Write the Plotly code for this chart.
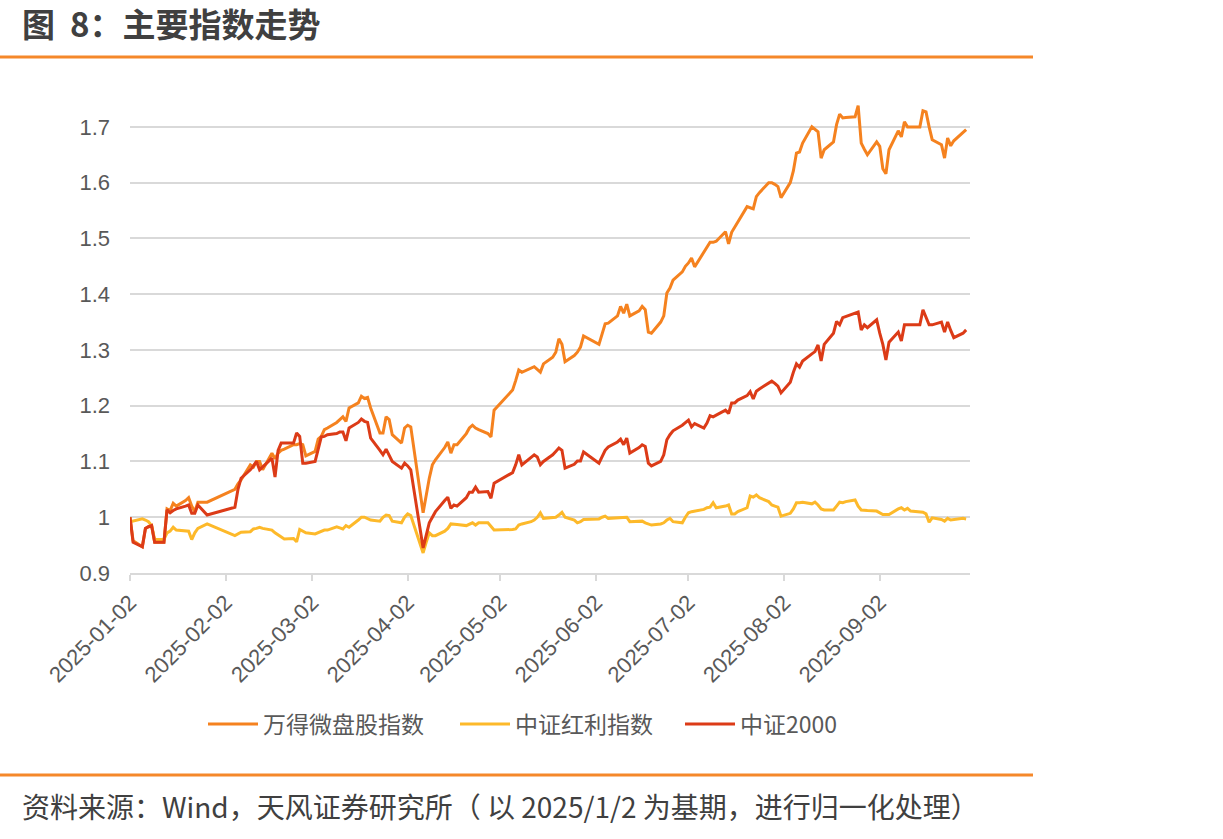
import plotly.graph_objects as go

# ---------------- data ----------------
dates = [
    # Jan
    "2025-01-02", "2025-01-03", "2025-01-06", "2025-01-07", "2025-01-08", "2025-01-09", "2025-01-10",
    "2025-01-13", "2025-01-14", "2025-01-15", "2025-01-16", "2025-01-17", "2025-01-20", "2025-01-21",
    "2025-01-22", "2025-01-23", "2025-01-24", "2025-01-27",
    # Feb
    "2025-02-05", "2025-02-06", "2025-02-07", "2025-02-10", "2025-02-11", "2025-02-12", "2025-02-13",
    "2025-02-14", "2025-02-17", "2025-02-18", "2025-02-19", "2025-02-20", "2025-02-21", "2025-02-24",
    "2025-02-25", "2025-02-26", "2025-02-27", "2025-02-28",
    # Mar
    "2025-03-03", "2025-03-04", "2025-03-05", "2025-03-06", "2025-03-07", "2025-03-10", "2025-03-11",
    "2025-03-12", "2025-03-13", "2025-03-14", "2025-03-17", "2025-03-18", "2025-03-19", "2025-03-20",
    "2025-03-21", "2025-03-24", "2025-03-25", "2025-03-26", "2025-03-27", "2025-03-28", "2025-03-31",
    # Apr
    "2025-04-01", "2025-04-02", "2025-04-03", "2025-04-07", "2025-04-08", "2025-04-09", "2025-04-10",
    "2025-04-11", "2025-04-14", "2025-04-15", "2025-04-16", "2025-04-17", "2025-04-18", "2025-04-21",
    "2025-04-22", "2025-04-23", "2025-04-24", "2025-04-25", "2025-04-28", "2025-04-29", "2025-04-30",
    # May
    "2025-05-06", "2025-05-07", "2025-05-08", "2025-05-09", "2025-05-12", "2025-05-13", "2025-05-14",
    "2025-05-15", "2025-05-16", "2025-05-19", "2025-05-20", "2025-05-21", "2025-05-22", "2025-05-23",
    "2025-05-26", "2025-05-27", "2025-05-28", "2025-05-29",
    # Jun
    "2025-06-03", "2025-06-04", "2025-06-05", "2025-06-06", "2025-06-09", "2025-06-10", "2025-06-11",
    "2025-06-12", "2025-06-13", "2025-06-16", "2025-06-17", "2025-06-18", "2025-06-19", "2025-06-20",
    "2025-06-23", "2025-06-24", "2025-06-25", "2025-06-26", "2025-06-27", "2025-06-30",
    # Jul
    "2025-07-01", "2025-07-02", "2025-07-03", "2025-07-04", "2025-07-07", "2025-07-08", "2025-07-09",
    "2025-07-10", "2025-07-11", "2025-07-14", "2025-07-15", "2025-07-16", "2025-07-17", "2025-07-18",
    "2025-07-21", "2025-07-22", "2025-07-23", "2025-07-24", "2025-07-25", "2025-07-28", "2025-07-29",
    "2025-07-30", "2025-07-31",
    # Aug
    "2025-08-01", "2025-08-04", "2025-08-05", "2025-08-06", "2025-08-07", "2025-08-08", "2025-08-11",
    "2025-08-12", "2025-08-13", "2025-08-14", "2025-08-15", "2025-08-18", "2025-08-19", "2025-08-20",
    "2025-08-21", "2025-08-22", "2025-08-25", "2025-08-26", "2025-08-27", "2025-08-28", "2025-08-29",
    # Sep
    "2025-09-01", "2025-09-02", "2025-09-03", "2025-09-04", "2025-09-05", "2025-09-08", "2025-09-09",
    "2025-09-10", "2025-09-11", "2025-09-12", "2025-09-15", "2025-09-16", "2025-09-17", "2025-09-18",
    "2025-09-19", "2025-09-22", "2025-09-23", "2025-09-24", "2025-09-25", "2025-09-26", "2025-09-29",
    "2025-09-30",
]

wind_microcap = [
    1.0, 0.958, 0.947, 0.98, 0.983, 0.985, 0.955, 0.955, 1.015, 1.012, 1.025, 1.02, 1.03, 1.035, 1.02, 1.01, 1.027, 1.027,
    1.05, 1.06, 1.067, 1.094, 1.09, 1.10, 1.10, 1.085, 1.115, 1.105, 1.115, 1.12, 1.122, 1.13, 1.13, 1.132, 1.13, 1.11,
    1.118, 1.14, 1.145, 1.157, 1.16, 1.17, 1.175, 1.18, 1.172, 1.196, 1.205, 1.217, 1.213, 1.215, 1.196, 1.151, 1.151,
    1.18, 1.175, 1.148, 1.133,
    1.16, 1.165, 1.162, 1.008, 1.04, 1.07, 1.094, 1.103, 1.125, 1.135, 1.115, 1.13, 1.13, 1.15, 1.16, 1.165, 1.16,
    1.157, 1.15, 1.144, 1.192,
    1.228, 1.245, 1.264, 1.26, 1.268, 1.27, 1.265, 1.26, 1.275, 1.287, 1.296, 1.32, 1.31, 1.279, 1.29, 1.296, 1.305, 1.325,
    1.31, 1.329, 1.347, 1.348, 1.361, 1.378, 1.366, 1.382, 1.361, 1.37, 1.378, 1.372, 1.332, 1.33, 1.35, 1.361, 1.402,
    1.411, 1.425, 1.44,
    1.45, 1.456, 1.465, 1.449, 1.475, 1.485, 1.493, 1.493, 1.495, 1.512, 1.49, 1.511, 1.52, 1.53, 1.557, 1.555, 1.553,
    1.575, 1.582, 1.6, 1.6, 1.597, 1.593,
    1.573, 1.6, 1.621, 1.653, 1.655, 1.671, 1.7, 1.695, 1.691, 1.644, 1.659, 1.673, 1.704, 1.723, 1.716, 1.717, 1.718,
    1.738, 1.671, 1.66, 1.65,
    1.673, 1.665, 1.625, 1.616, 1.659, 1.693, 1.682, 1.709, 1.70, 1.70, 1.70, 1.729, 1.727, 1.70, 1.677, 1.668, 1.644,
    1.68, 1.666, 1.675, 1.69, 1.695,
]

csi_dividend = [
    0.992, 0.993, 0.997, 0.995, 0.992, 0.985, 0.96, 0.96, 0.972, 0.975, 0.982, 0.977, 0.976, 0.975, 0.96, 0.972, 0.98, 0.988,
    0.967, 0.97, 0.973, 0.974, 0.979, 0.98, 0.982, 0.98, 0.977, 0.972, 0.968, 0.964, 0.961, 0.962, 0.956, 0.978, 0.975, 0.972,
    0.97, 0.972, 0.975, 0.977, 0.977, 0.983, 0.981, 0.979, 0.985, 0.982, 0.995, 1.0, 1.0, 0.998, 0.995, 0.993, 1.0, 1.004,
    1.003, 0.993, 0.99,
    1.0, 1.006, 1.003, 0.936, 0.955, 0.972, 0.967, 0.967, 0.975, 0.98, 0.988, 0.987, 0.987, 0.985, 0.988, 0.99, 0.986,
    0.99, 0.99, 0.983, 0.977,
    0.978, 0.979, 0.986, 0.988, 0.992, 0.995, 1.0, 1.008, 0.998, 1.0, 1.0, 1.004, 1.009, 1.0, 0.995, 0.99, 0.992, 0.996,
    0.997, 1.0, 1.002, 0.998, 0.999, 1.0, 1.0, 1.0, 0.992, 0.993, 0.993, 0.99, 0.988, 0.986, 0.988, 0.99, 0.995, 0.998,
    0.992, 0.99,
    1.0, 1.008, 1.01, 1.011, 1.014, 1.017, 1.018, 1.026, 1.017, 1.02, 1.022, 1.006, 1.006, 1.01, 1.017, 1.038, 1.036,
    1.04, 1.035, 1.028, 1.022, 1.02, 1.018,
    1.002, 1.007, 1.015, 1.026, 1.026, 1.027, 1.024, 1.027, 1.022, 1.015, 1.013, 1.013, 1.02, 1.027, 1.026, 1.028, 1.031,
    1.02, 1.013, 1.012, 1.012,
    1.011, 1.008, 1.005, 1.005, 1.005, 1.015, 1.017, 1.013, 1.016, 1.011, 1.01, 1.009, 1.006, 0.991, 0.999, 0.996, 0.993,
    0.998, 0.995, 0.996, 0.998, 0.997,
]

csi_2000 = [
    1.0, 0.955, 0.947, 0.98, 0.983, 0.985, 0.955, 0.955, 1.013, 1.008, 1.012, 1.015, 1.02, 1.022, 1.007, 1.007, 1.022, 1.004,
    1.018, 1.05, 1.07, 1.085, 1.092, 1.1, 1.085, 1.09, 1.106, 1.072, 1.12, 1.133, 1.133, 1.133, 1.151, 1.145, 1.097, 1.097,
    1.1, 1.12, 1.144, 1.145, 1.148, 1.15, 1.153, 1.153, 1.137, 1.16, 1.17, 1.176, 1.172, 1.17, 1.142, 1.12, 1.112, 1.122,
    1.11, 1.1, 1.088,
    1.097, 1.092, 1.085, 0.945, 0.97, 0.99, 1.0, 1.01, 1.03, 1.036, 1.016, 1.022, 1.02, 1.035, 1.045, 1.045, 1.054,
    1.045, 1.046, 1.034, 1.061,
    1.08, 1.094, 1.112, 1.094, 1.108, 1.112, 1.108, 1.094, 1.10, 1.112, 1.118, 1.124, 1.12, 1.088, 1.095, 1.101, 1.101, 1.117,
    1.097, 1.11, 1.12, 1.126, 1.135, 1.14, 1.13, 1.142, 1.115, 1.125, 1.13, 1.127, 1.097, 1.092, 1.1, 1.112, 1.139, 1.148,
    1.155, 1.165,
    1.17, 1.174, 1.162, 1.168, 1.16, 1.169, 1.182, 1.18, 1.183, 1.192, 1.186, 1.205, 1.205, 1.21, 1.218, 1.225, 1.212,
    1.226, 1.23, 1.24, 1.244, 1.24, 1.235,
    1.223, 1.242, 1.26, 1.275, 1.269, 1.28, 1.293, 1.297, 1.309, 1.28, 1.31, 1.33, 1.351, 1.345, 1.358, 1.36, 1.365,
    1.368, 1.336, 1.345, 1.34,
    1.354, 1.33, 1.31, 1.282, 1.314, 1.332, 1.316, 1.345, 1.345, 1.345, 1.345, 1.372, 1.36, 1.345, 1.345, 1.35, 1.332,
    1.35, 1.335, 1.322, 1.33, 1.336,
]

series_names = ["万得微盘股指数", "中证红利指数", "中证2000"]
series_colors = ["#F5821F", "#FDB92A", "#DC3B17"]

y_ticks = [0.9, 1.0, 1.1, 1.2, 1.3, 1.4, 1.5, 1.6, 1.7]
y_ticktext = ["0.9", "1", "1.1", "1.2", "1.3", "1.4", "1.5", "1.6", "1.7"]
x_ticks = ["2025-01-02", "2025-02-02", "2025-03-02", "2025-04-02", "2025-05-02",
           "2025-06-02", "2025-07-02", "2025-08-02", "2025-09-02"]

title_text = "图\u00a0\u00a08：主要指数走势"
source_text = "资料来源：Wind，天风证券研究所（ 以 2025/1/2 为基期，进行归一化处理）"

assert len(dates) == len(wind_microcap) == len(csi_dividend) == len(csi_2000)

# ---------------- figure ----------------
CJK = "Noto Sans CJK SC, Microsoft YaHei, sans-serif"
NUM = "Liberation Sans, Arial, Noto Sans CJK SC, sans-serif"
ORANGE = "#F5882A"

W, H = 1223, 839
L, R, T, B = 130, 253, 99, 266
pw, ph = W - L - R, H - T - B


def px(xp):
    return (xp - L) / pw


def py(yp):
    return (H - B - yp) / ph


legend_ids = ["legend", "legend2", "legend3"]
legend_left = [203, 455, 680]

fig = go.Figure()
for name, vals, col, lid in zip(series_names, [wind_microcap, csi_dividend, csi_2000],
                                series_colors, legend_ids):
    fig.add_trace(go.Scatter(x=dates, y=vals, mode="lines", name=name, legend=lid,
                             line=dict(color=col, width=3)))

legend_style = dict(orientation="h", yanchor="middle", xanchor="left",
                    font=dict(family=CJK, size=23, color="#595959"),
                    itemwidth=50, bgcolor="rgba(0,0,0,0)")

fig.update_layout(
    width=W, height=H,
    margin=dict(l=L, r=R, t=T, b=B),
    paper_bgcolor="white", plot_bgcolor="white",
    showlegend=True,
    legend=dict(x=px(legend_left[0]), y=py(724), **legend_style),
    legend2=dict(x=px(legend_left[1]), y=py(724), **legend_style),
    legend3=dict(x=px(legend_left[2]), y=py(724), **legend_style),
    xaxis=dict(type="date", range=["2025-01-02", "2025-10-01 06:00"],
               tickvals=x_ticks, ticktext=x_ticks, tickangle=-45,
               tickfont=dict(family=NUM, size=22, color="#595959"),
               showgrid=False, zeroline=False,
               showline=True, linecolor="#D9D9D9", linewidth=2,
               ticks="outside", ticklen=6, tickwidth=2, tickcolor="#D9D9D9"),
    yaxis=dict(range=[0.9, 1.75], tickvals=y_ticks, ticktext=y_ticktext,
               tickfont=dict(family=NUM, size=22, color="#595959"),
               showgrid=True, gridcolor="#D9D9D9", gridwidth=2,
               zeroline=False, showline=False, ticks="", ticklabelstandoff=19),
    shapes=[
        dict(type="line", xref="paper", yref="paper", x0=px(0), x1=px(1033), y0=py(57), y1=py(57),
             line=dict(color=ORANGE, width=3)),
        dict(type="line", xref="paper", yref="paper", x0=px(0), x1=px(1033), y0=py(775), y1=py(775),
             line=dict(color=ORANGE, width=3)),
    ],
    annotations=[
        dict(text="<b>" + title_text + "</b>", xref="paper", yref="paper", x=px(20), y=py(23),
             xanchor="left", yanchor="middle", showarrow=False,
             font=dict(family=CJK, size=33, color="#404040")),
        dict(text=source_text, xref="paper", yref="paper", x=px(20), y=py(806),
             xanchor="left", yanchor="middle", showarrow=False,
             font=dict(family=CJK, size=28, color="#404040")),
    ],
)

fig.write_html("out.html")
